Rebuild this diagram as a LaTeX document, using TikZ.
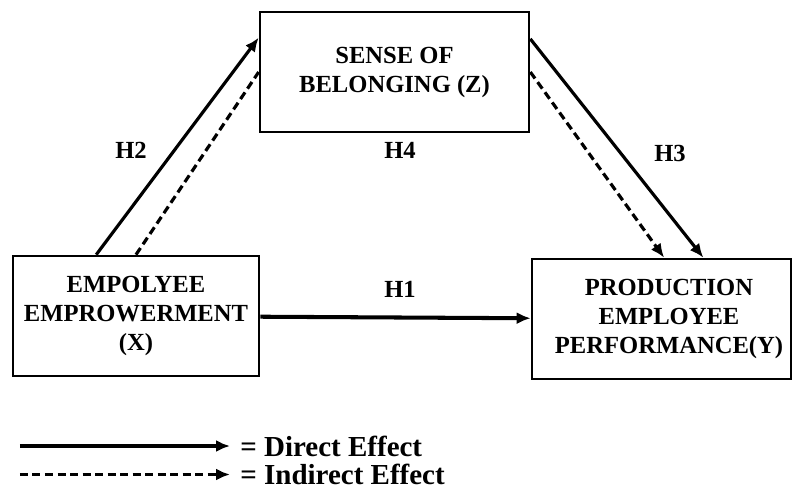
\documentclass[tikz,border=0pt]{standalone}
\usepackage{fontspec}
\setmainfont{Liberation Serif}
\usepackage{tikz}
\usetikzlibrary{positioning, arrows.meta, calc}

\tikzset{
  varbox/.style={draw, line width=1.5pt, minimum height=2.4cm, align=center, inner sep=0pt},
  direct/.style={-{Latex[length=2.8mm,width=2.4mm]}, line width=1.8pt},
  indirect/.style={direct, dash pattern=on 1.6mm off 0.9mm},
  legtext/.style={anchor=west, inner xsep=0.2cm, font=\bfseries\fontsize{16.5}{19}\selectfont}
}

\begin{document}
\begin{tikzpicture}[font=\bfseries\fontsize{14}{16.5}\selectfont]
  \useasboundingbox (0,0) rectangle (15.84,9.8);

  % Variables
  \node[varbox, minimum width=5.38cm] (Z) at (7.89,8.36) {SENSE OF\\BELONGING (Z)};
  \node[varbox, minimum width=4.92cm] (X) at (2.72,3.48) {EMPOLYEE\\EMPROWERMENT\\(X)};
  \node[varbox, minimum width=5.18cm] (Y) at (13.23,3.42) {\hspace*{0.3cm}PRODUCTION\\\hspace*{0.3cm}EMPLOYEE\\\hspace*{0.3cm}PERFORMANCE(Y)};

  % X to Z
  \draw[direct] ($(X.north west)!0.34!(X.north east)$) -- ($(Z.north west)!0.22!(Z.south west)$);
  \draw[indirect, -] (X.north) -- (Z.west);

  % Z to Y
  \draw[direct] ($(Z.north east)!0.23!(Z.south east)$) -- ($(Y.north west)!0.66!(Y.north east)$);
  \draw[indirect] (Z.east) -- ($(Y.north west)!0.51!(Y.north east)$);

  % X to Y
  \draw[direct, line width=2.3pt] (X) -- (Y);

  % Hypotheses
  \node (h2) at (2.62,6.8) {H2};
  \node (h4) at (8.0,6.8) {H4};
  \node (h3) at (13.4,6.74) {H3};
  \node (h1) at (8.0,4.02) {H1};

  % Legend
  \coordinate (dstart) at (0.4,0.88);
  \coordinate (istart) at (0.4,0.31);
  \node[legtext] (dlab) at (4.6,0.88) {= Direct Effect};
  \node[legtext] (ilab) at (4.6,0.31) {= Indirect Effect};
  \draw[direct] (dstart) -- (dlab.west);
  \draw[indirect] (istart) -- (ilab.west);

\end{tikzpicture}
\end{document}
